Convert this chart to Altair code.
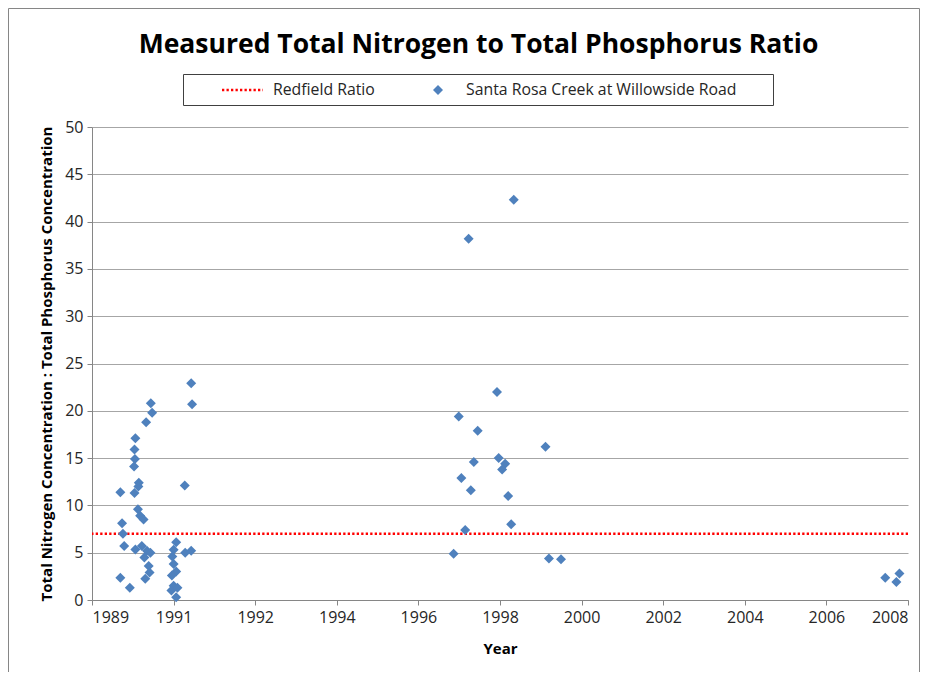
import altair as alt
import pandas as pd

# ---- data ----
years = [
    1990.52, 1990.55, 1990.41, 1990.16, 1990.14, 1990.15, 1990.13, 1990.24, 1990.23,
    1989.81, 1990.14, 1990.22, 1990.27, 1990.35, 1989.85, 1989.87, 1989.90, 1990.16,
    1990.31, 1990.43, 1990.51, 1990.37, 1990.47, 1990.49, 1990.39, 1989.81, 1990.03,
    1991.11, 1991.05, 1991.02, 1991.05, 1991.11, 1991.01, 1991.05, 1991.00, 1991.11,
    1991.14, 1991.32, 1991.46, 1991.31, 1991.46, 1991.48,
    1997.57, 1997.69, 1997.75, 1997.84, 1997.92, 1997.97, 1998.04, 1998.13, 1998.58,
    1998.62, 1998.77, 1998.70, 1998.84, 1998.91, 1998.97, 1999.71, 1999.79, 2000.07,
    2007.62, 2007.88, 2007.95,
]
ratios = [
    20.8, 19.8, 18.8, 17.1, 15.9, 14.9, 14.1, 12.4, 12.0,
    11.4, 11.3, 9.6, 8.9, 8.5, 8.1, 7.0, 5.7, 5.35,
    5.7, 5.2, 5.0, 4.5, 3.6, 2.9, 2.25, 2.35, 1.3,
    6.1, 5.3, 4.6, 3.8, 3.0, 2.6, 1.5, 1.0, 0.3,
    1.3, 5.0, 5.2, 12.1, 22.9, 20.7,
    4.9, 19.4, 12.9, 7.4, 38.2, 11.6, 14.6, 17.9, 22.0,
    15.0, 14.4, 13.8, 11.0, 8.0, 42.3, 16.2, 4.4, 4.3,
    2.35, 1.9, 2.8,
]
redfield = [7]
series_names = ["Redfield Ratio", "Santa Rosa Creek at Willowside Road"]
chart_title = ["Measured Total Nitrogen to Total Phosphorus Ratio"]
tick_labels = ["1989", "1991", "1992", "1994", "1996", "1998",
               "2000", "2002", "2004", "2006", "2008"]
x_start, x_step = 1989.15, 1.9
y_ticks = [0, 5, 10, 15, 20, 25, 30, 35, 40, 45, 50]

pts = pd.DataFrame({"Year": years, "Ratio": ratios})
red = pd.DataFrame({"Ratio": redfield})
tick_values = [round(x_start + x_step * i, 4) for i in range(len(tick_labels))]
label_expr = ("[" + ",".join("'%s'" % t for t in tick_labels) + "]"
              "[round((datum.value - %s) / %s)]" % (x_start, x_step))

BLUE = "#4F81BD"
RED = "#FF0000"
FONT = "Open Sans"
W, H = 816, 473

x_enc = alt.X("Year:Q",
              scale=alt.Scale(domain=[tick_values[0], tick_values[-1]], nice=False, zero=False),
              axis=alt.Axis(values=tick_values, labelExpr=label_expr, title="Year",
                            grid=False, tickSize=5, labelPadding=4, titlePadding=16))
y_enc = alt.Y("Ratio:Q",
              scale=alt.Scale(domain=[0, 50], nice=False),
              axis=alt.Axis(values=y_ticks,
                            title="Total Nitrogen Concentration : Total Phosphorus Concentration",
                            grid=True, tickSize=5, labelPadding=4, titlePadding=10))

points = alt.Chart(pts).mark_point(shape="diamond", filled=True, size=100,
                                   color=BLUE, opacity=1).encode(x=x_enc, y=y_enc)

rule = alt.Chart(red).mark_rule(color=RED, strokeWidth=2.5,
                                strokeDash=[2.3, 2.2]).encode(y="Ratio:Q")

# ---- frame border, title & legend (layout positions in pixels) ----
leg = pd.DataFrame({"name": series_names})
ttl = pd.DataFrame({"t": chart_title})
one = pd.DataFrame({"k": [0]})

border = alt.Chart(one).mark_rect(fill=None, stroke="#868686", strokeWidth=1).encode(
    x=alt.value(-83.5), x2=alt.value(827.5), y=alt.value(-118.5), y2=alt.value(190 + H))

title_mark = alt.Chart(ttl).mark_text(
    align="center", baseline="middle", font=FONT, fontSize=26.5, fontWeight="bold",
    color="#000000").encode(text="t:N", x=alt.value(386.5), y=alt.value(-82))

box = alt.Chart(one).mark_rect(fill="white", stroke="#404040", strokeWidth=1).encode(
    x=alt.value(91.5), x2=alt.value(681.5), y=alt.value(-52.5), y2=alt.value(-21.5))

leg_line = alt.Chart(one).mark_rule(color=RED, strokeWidth=2.5, strokeDash=[2.3, 2.2]).encode(
    x=alt.value(130), x2=alt.value(171), y=alt.value(-37))

leg_pt = alt.Chart(one).mark_point(shape="diamond", filled=True, size=100,
                                   color=BLUE, opacity=1).encode(
    x=alt.value(346), y=alt.value(-37))

leg_txt1 = alt.Chart(leg).transform_filter(alt.datum.name == series_names[0]).mark_text(
    align="left", baseline="middle", font=FONT, fontSize=15.8, color="#262626").encode(
    text="name:N", x=alt.value(181), y=alt.value(-37))

leg_txt2 = alt.Chart(leg).transform_filter(alt.datum.name == series_names[1]).mark_text(
    align="left", baseline="middle", font=FONT, fontSize=15.8, color="#262626").encode(
    text="name:N", x=alt.value(374), y=alt.value(-37))

chart = alt.layer(border, rule, points, title_mark, box, leg_line, leg_pt,
                  leg_txt1, leg_txt2).properties(
    width=W, height=H,
    autosize=alt.AutoSizeParams(type="none"),
    padding={"left": 84, "top": 119, "right": 20, "bottom": 72},
    background="white",
).configure_view(stroke=None).configure_axis(
    labelFont=FONT, labelFontSize=16, labelColor="#262626",
    titleFont=FONT, titleFontSize=15, titleFontWeight="bold", titleColor="#000000",
    domainColor="#868686", tickColor="#868686", gridColor="#A6A6A6",
    domainWidth=1, tickWidth=1, gridWidth=1,
)

chart.save("out.html", embed_options={"renderer": "svg", "actions": False})
